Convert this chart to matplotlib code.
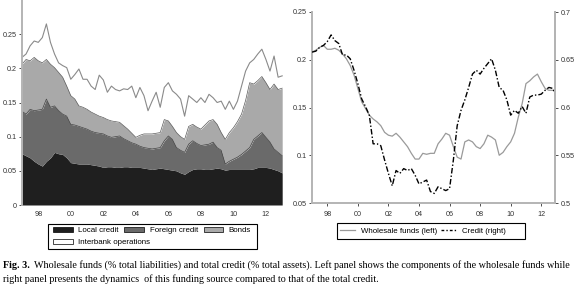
import numpy as np
import matplotlib
matplotlib.use("Agg")
import matplotlib.pyplot as plt
from matplotlib.patches import Patch, Rectangle
from matplotlib.lines import Line2D

# > Data (quarterly, 1997Q1 .. 2013Q1)
years = np.arange(1997.0, 2013.01, 0.25)

# left panel, cumulative levels (top of each band)
local_top = [
    0.075, 0.072, 0.069, 0.064, 0.060, 0.057, 0.064, 0.069,
    0.077, 0.075, 0.074, 0.069, 0.062, 0.061, 0.060, 0.060,
    0.060, 0.059, 0.058, 0.057, 0.055, 0.056, 0.056, 0.055,
    0.055, 0.056, 0.056, 0.055, 0.055, 0.055, 0.054, 0.053,
    0.052, 0.053, 0.054, 0.053, 0.052, 0.051, 0.050, 0.047,
    0.045, 0.049, 0.052, 0.053, 0.053, 0.052, 0.052, 0.053,
    0.054, 0.053, 0.051, 0.052, 0.052, 0.052, 0.052, 0.052,
    0.052, 0.053, 0.055, 0.055, 0.055, 0.054, 0.052, 0.050,
    0.047,
]
foreign_top = [
    0.137, 0.133, 0.140, 0.138, 0.139, 0.140, 0.155, 0.143,
    0.145, 0.138, 0.133, 0.130, 0.118, 0.117, 0.115, 0.113,
    0.111, 0.108, 0.106, 0.105, 0.104, 0.101, 0.099, 0.100,
    0.101, 0.097, 0.094, 0.091, 0.089, 0.086, 0.084, 0.083,
    0.082, 0.083, 0.084, 0.094, 0.101, 0.096, 0.084, 0.080,
    0.077, 0.089, 0.094, 0.090, 0.087, 0.088, 0.089, 0.092,
    0.084, 0.080, 0.060, 0.064, 0.067, 0.070, 0.074, 0.079,
    0.084, 0.096, 0.101, 0.106, 0.099, 0.092, 0.082, 0.077,
    0.072,
]
bonds_top = [
    0.206, 0.213, 0.211, 0.216, 0.211, 0.208, 0.213, 0.206,
    0.201, 0.194, 0.187, 0.174, 0.160, 0.155, 0.145, 0.143,
    0.140, 0.136, 0.133, 0.130, 0.128, 0.125, 0.123, 0.122,
    0.121, 0.116, 0.111, 0.105, 0.099, 0.102, 0.104, 0.104,
    0.104, 0.105, 0.106, 0.125, 0.123, 0.115, 0.106, 0.100,
    0.096, 0.115, 0.118, 0.114, 0.111, 0.117, 0.123, 0.125,
    0.118, 0.106, 0.096, 0.106, 0.113, 0.122, 0.133, 0.153,
    0.179, 0.177, 0.182, 0.188, 0.179, 0.169, 0.177, 0.169,
    0.171,
]
total_top = [
    0.216, 0.221, 0.233, 0.240, 0.238, 0.245, 0.265, 0.238,
    0.221, 0.208, 0.204, 0.201, 0.184, 0.191, 0.199, 0.184,
    0.184, 0.174, 0.169, 0.190, 0.183, 0.165, 0.174, 0.169,
    0.167, 0.170, 0.169, 0.174, 0.157, 0.172, 0.160, 0.138,
    0.152, 0.165, 0.143, 0.172, 0.179, 0.167, 0.162, 0.155,
    0.130, 0.160, 0.155, 0.150, 0.157, 0.150, 0.162, 0.157,
    0.150, 0.152, 0.140, 0.152, 0.140, 0.152, 0.174, 0.196,
    0.208, 0.213, 0.221, 0.228, 0.213, 0.196, 0.218, 0.187,
    0.189,
]

# right panel
wholesale = [
    0.208, 0.210, 0.213, 0.215, 0.211, 0.211, 0.212, 0.210,
    0.206, 0.201, 0.194, 0.184, 0.170, 0.156, 0.149, 0.142,
    0.138, 0.135, 0.131, 0.124, 0.121, 0.120, 0.123, 0.119,
    0.114, 0.109, 0.102, 0.096, 0.096, 0.102, 0.101, 0.102,
    0.102, 0.112, 0.117, 0.123, 0.121, 0.109, 0.098, 0.096,
    0.114, 0.116, 0.114, 0.109, 0.107, 0.112, 0.121, 0.119,
    0.116, 0.100, 0.103, 0.109, 0.114, 0.123, 0.140, 0.154,
    0.175, 0.178, 0.182, 0.185, 0.177, 0.170, 0.168, 0.168,
    0.169,
]
credit = [
    0.658, 0.659, 0.663, 0.665, 0.669, 0.676, 0.670, 0.667,
    0.655, 0.655, 0.651, 0.639, 0.625, 0.609, 0.601, 0.592,
    0.562, 0.562, 0.560, 0.545, 0.531, 0.518, 0.534, 0.531,
    0.536, 0.534, 0.536, 0.529, 0.520, 0.522, 0.524, 0.512,
    0.510, 0.517, 0.515, 0.513, 0.515, 0.545, 0.581, 0.597,
    0.608, 0.621, 0.635, 0.639, 0.635, 0.641, 0.646, 0.651,
    0.639, 0.621, 0.618, 0.608, 0.592, 0.597, 0.594, 0.601,
    0.594, 0.611, 0.613, 0.613, 0.614, 0.618, 0.621, 0.620,
    0.611,
]

xtick_pos = [1998, 2000, 2002, 2004, 2006, 2008, 2010, 2012]
xtick_lab = ["98", "00", "02", "04", "06", "08", "10", "12"]
left_yticks = [0, 0.05, 0.1, 0.15, 0.2, 0.25]
left_ylab = ["0", "0.05", "0.1", "0.15", "0.2", "0.25"]
right_yticks_l = [0.05, 0.1, 0.15, 0.2, 0.25]
right_ylab_l = ["0.05", "0.1", "0.15", "0.2", "0.25"]
right_yticks_r = [0.5, 0.55, 0.6, 0.65, 0.7]
right_ylab_r = ["0.5", "0.55", "0.6", "0.65", "0.7"]
# <

# > Font / colours
FONT_TICKS = 5.2
FONT_LEGEND = 5.7
FONT_CAPTION = 7.3
SPINE_C = "#b4b4b4"
TICK_C = "#333333"
C_LOCAL = "#1f1f1f"
C_FOREIGN = "#6a6a6a"
C_BONDS = "#a9a9a9"
C_TOTAL = "#8a8a8a"
plt.rcParams["font.family"] = ["Liberation Sans", "DejaVu Sans"]
# <

W, H = 579, 290
fig = plt.figure(figsize=(W / 100, H / 100), dpi=100)


def style_axis(ax):
    for s in ax.spines.values():
        s.set_color(SPINE_C)
        s.set_linewidth(1.4)
    ax.tick_params(labelsize=FONT_TICKS, colors=TICK_C, length=2, width=0.6,
                   pad=2)
    ax.tick_params(axis="x", pad=4)
    for t in ax.xaxis.get_ticklines() + ax.yaxis.get_ticklines():
        t.set_color(SPINE_C)


def frame_box(x0, y0, x1, y1):
    # legend frame in pixel coords (top-left origin)
    r = Rectangle((x0 / W, 1 - y1 / H), (x1 - x0) / W, (y1 - y0) / H,
                  transform=fig.transFigure, facecolor="white",
                  edgecolor="black", lw=0.8, zorder=0)
    fig.patches.append(r)


# > Left panel: stacked components
axl = fig.add_axes([22 / W, 1 - 205 / H, 261 / W, 205 / H])
x = years
zero = np.zeros(len(x))
axl.fill_between(x, zero, local_top, color=C_LOCAL, lw=0)
axl.fill_between(x, local_top, foreign_top, color=C_FOREIGN, lw=0)
axl.fill_between(x, foreign_top, bonds_top, color=C_BONDS, lw=0)
axl.fill_between(x, bonds_top, total_top, color="white", lw=0)
axl.plot(x, foreign_top, color="#444444", lw=0.5)
axl.plot(x, bonds_top, color="#5a5a5a", lw=0.5)
axl.plot(x, total_top, color=C_TOTAL, lw=0.8)
axl.set_xlim(1997.0, 2013.05)
axl.set_ylim(0, 0.3)
axl.set_xticks(xtick_pos)
axl.set_xticklabels(xtick_lab)
axl.set_yticks(left_yticks)
axl.set_yticklabels(left_ylab)
style_axis(axl)
axl.spines["top"].set_visible(False)
axl.spines["right"].set_visible(False)
axl.spines["bottom"].set_visible(False)
axl.tick_params(axis="x", length=0)

# legend: row 1 flows, row 2 below, one frame round both
frame_box(48, 224, 257, 249)
leg_kw = dict(fontsize=FONT_LEGEND, frameon=False, handlelength=2.5,
              handleheight=0.75, handletextpad=0.7, columnspacing=0.7,
              borderpad=0, borderaxespad=0)
row1 = [Patch(facecolor=C_LOCAL, edgecolor="black", lw=0.5),
        Patch(facecolor=C_FOREIGN, edgecolor="black", lw=0.5),
        Patch(facecolor=C_BONDS, edgecolor="black", lw=0.5)]
fig.legend(row1, ["Local credit", "Foreign credit", "Bonds"], ncol=3,
           loc="center left", bbox_to_anchor=(53 / W, 1 - 230.5 / H),
           **leg_kw)
row2 = [Patch(facecolor="white", edgecolor="black", lw=0.5)]
fig.legend(row2, ["Interbank operations"], loc="center left",
           bbox_to_anchor=(53 / W, 1 - 242.5 / H), **leg_kw)
# <

# > Right panel: wholesale funds vs credit
axr = fig.add_axes([312 / W, 1 - 203 / H, 243 / W, 191 / H])
axr.plot(x, wholesale, color="#9a9a9a", lw=0.9)
axr.set_xlim(1997.0, 2012.9)
axr.set_ylim(0.05, 0.25)
axr.set_xticks(xtick_pos)
axr.set_xticklabels(xtick_lab)
axr.set_yticks(right_yticks_l)
axr.set_yticklabels(right_ylab_l)
style_axis(axr)
axr.spines["top"].set_visible(False)

axr2 = axr.twinx()
axr2.plot(x, credit, color="black", lw=1.0, ls=(0, (4, 1.5, 1, 1.5)))
axr2.set_ylim(0.5, 0.7)
axr2.set_yticks(right_yticks_r)
axr2.set_yticklabels(right_ylab_r)
style_axis(axr2)
axr2.spines["top"].set_visible(False)
axr2.spines["left"].set_visible(False)
axr2.spines["bottom"].set_visible(False)

frame_box(337, 223, 525, 239)
hr = [Line2D([], [], color="#9a9a9a", lw=0.9),
      Line2D([], [], color="black", lw=1.0, ls=(0, (2, 1.5, 1, 1.5)))]
fig.legend(hr, ["Wholesale funds (left)", "Credit (right)"], ncol=2,
           loc="center left", bbox_to_anchor=(340 / W, 1 - 231 / H),
           fontsize=FONT_LEGEND, frameon=False, handlelength=1.9,
           handletextpad=0.8, columnspacing=0.4, borderpad=0,
           borderaxespad=0)
# <

# > Caption
cap_font = ["Liberation Serif", "DejaVu Serif"]
fig.text(3 / W, 1 - 268 / H, "Fig. 3.", family=cap_font,
         fontsize=FONT_CAPTION, fontweight="bold", va="baseline")
fig.text(34 / W, 1 - 268 / H,
         "Wholesale funds (% total liabilities) and total credit (% total "
         "assets). Left panel shows the components of the wholesale funds while",
         family=cap_font, fontsize=FONT_CAPTION, va="baseline")
fig.text(3 / W, 1 - 282 / H,
         "right panel presents the dynamics  of this funding source compared "
         "to that of the total credit.",
         family=cap_font, fontsize=FONT_CAPTION, va="baseline")
# <

fig.savefig("out.png", dpi=100)
